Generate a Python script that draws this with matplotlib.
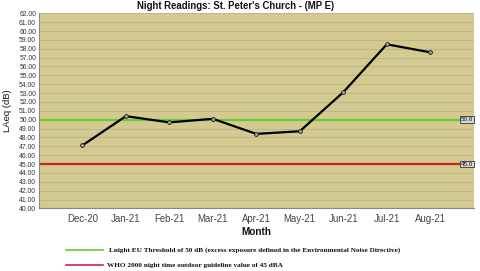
import matplotlib
matplotlib.use("Agg")
import matplotlib.pyplot as plt
from matplotlib.lines import Line2D

plt.rcParams['font.family'] = ['Liberation Sans', 'DejaVu Sans']

months = ["Dec-20", "Jan-21", "Feb-21", "Mar-21", "Apr-21", "May-21", "Jun-21", "Jul-21", "Aug-21"]
laeq = [47.1, 50.4, 49.7, 50.1, 48.4, 48.7, 53.1, 58.5, 57.6]
eu_threshold = 50.0
who_guideline = 45.0
yticks = [40 + i for i in range(23)]
legend_labels = [
    "Lnight EU Threshold of 50 dB (excess exposure defined in the Environmental Noise Directive)",
    "WHO 2000 night time outdoor guideline value of 45 dBA",
]

fig = plt.figure(figsize=(4.8, 2.71), dpi=100)
ax = fig.add_axes([0.081, 0.231, 0.906, 0.720])
ax.set_facecolor("#d4ca90")

for y in yticks:
    ax.axhline(y, color="#bcb69a", lw=0.7, zorder=1)

ax.axhline(eu_threshold, color="#66cc33", lw=1.6, zorder=2)
ax.axhline(who_guideline, color="#cc2222", lw=1.6, zorder=2)

x = list(range(len(months)))
ax.plot(x, laeq, color="black", lw=1.6, marker="o", ms=2.8,
        mfc="#999999", mec="#222222", mew=0.6, zorder=3)

ax.set_xlim(-1, 9)
ax.set_ylim(40, 62)
ax.set_yticks(yticks)
ax.set_yticklabels([f"{v:.2f}" for v in yticks], fontsize=4.9, color="#333333")
ax.set_xticks(x)
ax.set_xticklabels(months, fontsize=6.9, color="#444444")
ax.tick_params(axis="both", length=0, pad=2)
ax.tick_params(axis="x", pad=4)

for s in ["top", "right"]:
    ax.spines[s].set_visible(False)
for s in ["left", "bottom"]:
    ax.spines[s].set_color("#888888")
    ax.spines[s].set_linewidth(0.8)

for val in [eu_threshold, who_guideline]:
    ax.text(8.98, val, f"{val:.1f}", fontsize=4.5, ha="right", va="center",
            color="#111111", zorder=4,
            bbox=dict(boxstyle="square,pad=0.15", fc="#d8d8d8", ec="#333333", lw=0.6))

fig.text(0.491, 0.978, "Night Readings: St. Peter's Church - (MP E)", ha="center", va="center",
         fontsize=6.9, fontweight="bold", color="#111111")
fig.text(0.016, 0.592, "LAeq (dB)", rotation=90, ha="center", va="center",
         fontsize=6.8, color="#111111")
fig.text(0.533, 0.145, "Month", ha="center", va="center", fontsize=7.2,
         fontweight="bold", color="#111111")

line_colors = ["#66cc33", "#cc2255"]
ys = [0.077, 0.022]
xstarts = [0.227, 0.222]
for lab, col, yy, xs in zip(legend_labels, line_colors, ys, xstarts):
    fig.add_artist(Line2D([0.137, 0.214], [yy, yy], color=col, lw=1.2, transform=fig.transFigure))
    fig.text(xs, yy, lab, ha="left", va="center", fontsize=5.2, fontweight="bold",
             family="Liberation Serif", color="#111111")

fig.savefig("out.png", dpi=100)
